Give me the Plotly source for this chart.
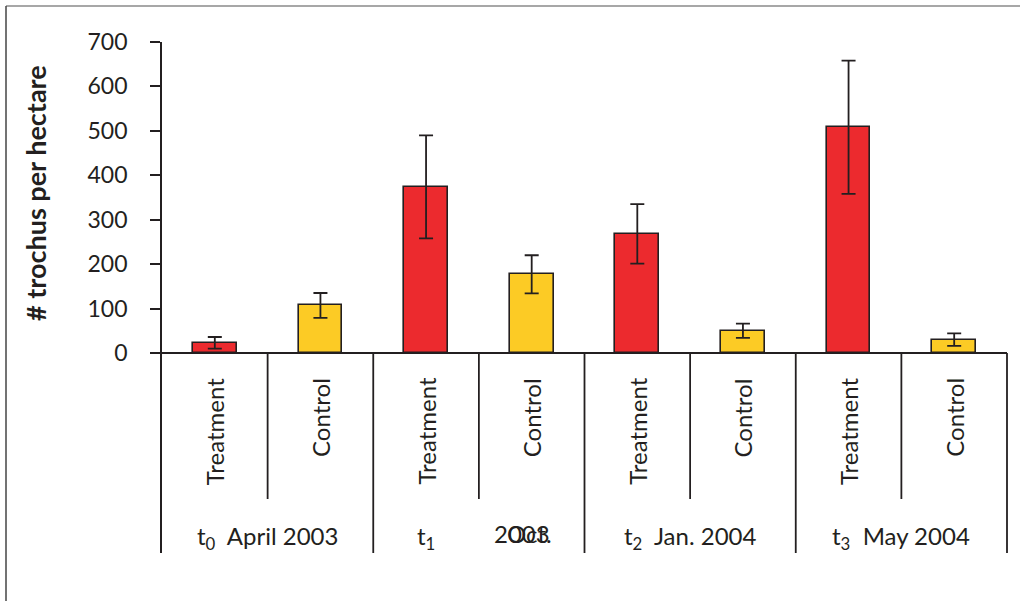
import plotly.graph_objects as go

# ---- data ----
periods = ["t<sub>0</sub>  April 2003", "t<sub>1</sub>", "t<sub>2</sub>  Jan. 2004", "t<sub>3</sub>  May 2004"]
groups = ["Treatment", "Control"]
treatment = [23, 374, 268, 508]
treatment_err = [13, 116, 67, 150]
control = [107, 177, 50, 30]
control_err = [28, 43, 16, 14]
y_ticks = [0, 100, 200, 300, 400, 500, 600, 700]

W, H = 1020, 601
L, R, T, B = 162, 1007, 42, 553          # plot area in pixels
Y0_PX = 353                               # pixel of value 0
Y_MAX = 700
Y_MIN = -Y_MAX * (B - Y0_PX) / (Y0_PX - T)

def py(p):   # pixel y -> paper y
    return (B - p) / (B - T)

def pxx(p):  # pixel x -> paper x
    return (p - L) / (R - L)

n_cat = 2 * len(treatment)
def cx(i):   # category boundary/center index -> paper x
    return (i + 0.5) / n_cat

DARK = "#231F20"
RED = "#EC2A2E"
YELLOW = "#FCCB25"
FONT = "Lato"

fig = go.Figure()
xt = [2 * k for k in range(len(treatment))]
xc = [2 * k + 1 for k in range(len(control))]
bar_w = 0.415
fig.add_trace(go.Bar(x=xt, y=treatment, width=bar_w, marker=dict(color=RED, line=dict(color=DARK, width=1.6)),
                     error_y=dict(type="data", array=treatment_err, color=DARK, thickness=1.8, width=7),
                     name="Treatment", showlegend=False))
fig.add_trace(go.Bar(x=xc, y=control, width=bar_w, marker=dict(color=YELLOW, line=dict(color=DARK, width=1.6)),
                     error_y=dict(type="data", array=control_err, color=DARK, thickness=1.8, width=7),
                     name="Control", showlegend=False))

shapes = []
for k in range(len(treatment)):
    shapes.append(dict(type="line", xref="paper", yref="paper", x0=cx(2 * k + 0.5), x1=cx(2 * k + 0.5),
                       y0=py(Y0_PX), y1=py(499), line=dict(color=DARK, width=1.8)))
    shapes.append(dict(type="line", xref="paper", yref="paper", x0=cx(2 * k + 1.5), x1=cx(2 * k + 1.5),
                       y0=py(Y0_PX), y1=py(B), line=dict(color=DARK, width=1.8)))
shapes.append(dict(type="line", xref="paper", yref="paper", x0=pxx(6), x1=pxx(W), y0=py(6), y1=py(6),
                   line=dict(color="#8A8A8A", width=1.5)))
shapes.append(dict(type="line", xref="paper", yref="paper", x0=pxx(6), x1=pxx(6), y0=py(6), y1=py(H + 5),
                   line=dict(color="#444444", width=1.5)))

annotations = []
for i in range(n_cat):
    annotations.append(dict(text=groups[i % 2], textangle=-90, xref="paper", yref="paper",
                            x=cx(i), y=py(376), xanchor="center", yanchor="top", showarrow=False,
                            font=dict(family=FONT, size=24, color=DARK)))
for k, lab in enumerate(periods):
    if k == 1:
        continue
    annotations.append(dict(text=lab, xref="paper", yref="paper", x=cx(2 * k + 0.5), y=py(537),
                            xanchor="center", yanchor="middle", showarrow=False,
                            font=dict(family=FONT, size=24, color=DARK)))
# t1 label (overlapping text as in the original)
annotations.append(dict(text=periods[1], xref="paper", yref="paper", x=pxx(415), y=py(537),
                        xanchor="left", yanchor="middle", showarrow=False,
                        font=dict(family=FONT, size=24, color=DARK)))
annotations.append(dict(text="2003", xref="paper", yref="paper", x=pxx(492), y=py(537),
                        xanchor="left", yanchor="middle", showarrow=False, yshift=4,
                        font=dict(family=FONT, size=24, color=DARK)))
annotations.append(dict(text="Oct.", xref="paper", yref="paper", x=pxx(505), y=py(537),
                        xanchor="left", yanchor="middle", showarrow=False, yshift=4,
                        font=dict(family=FONT, size=24, color=DARK)))
annotations.append(dict(text="<b># trochus per hectare</b>", textangle=-90, xref="paper", yref="paper",
                        x=pxx(35), y=py(193), xanchor="center", yanchor="middle", showarrow=False,
                        font=dict(family=FONT, size=27, color=DARK)))

fig.update_layout(
    width=W, height=H,
    margin=dict(l=L, r=W - R, t=T, b=H - B, pad=0),
    paper_bgcolor="white", plot_bgcolor="white",
    bargap=0, barmode="overlay",
    xaxis=dict(range=[-0.5, n_cat - 0.5], visible=False, fixedrange=True),
    yaxis=dict(range=[Y_MIN, Y_MAX], tickvals=y_ticks, ticktext=[str(v) for v in y_ticks],
               ticks="outside", ticklen=10, tickwidth=1.8, tickcolor=DARK,
               showline=True, linecolor=DARK, linewidth=1.8,
               showgrid=False, zeroline=True, zerolinecolor=DARK, zerolinewidth=1.8,
               ticklabelstandoff=18,
               tickfont=dict(family=FONT, size=23, color=DARK)),
    shapes=shapes, annotations=annotations,
    showlegend=False,
)

fig.write_html("out.html")
